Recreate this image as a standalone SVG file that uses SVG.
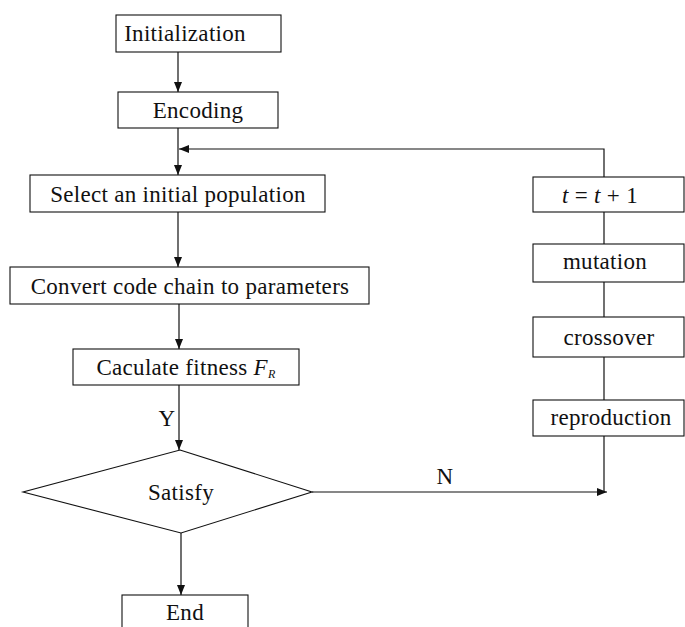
<svg xmlns="http://www.w3.org/2000/svg" width="685" height="627" viewBox="0 0 685 627">
<style>
.box{fill:#fff;stroke:#111;stroke-width:1.1}
.t{font-family:"Liberation Serif","Times New Roman",serif;font-size:23px;letter-spacing:0.3px;fill:#111;text-anchor:middle}
.c{fill:none;stroke:#111;stroke-width:1.2}
</style>
<defs>
<marker id="ah" viewBox="0 0 10 8" refX="10" refY="4" markerWidth="10" markerHeight="8" markerUnits="userSpaceOnUse" orient="auto">
<path d="M0,0 L10,4 L0,8 Z" fill="#111"/>
</marker>
</defs>
<rect width="685" height="627" fill="#fff"/>
<g id="connectors">
<line class="c" x1="178" y1="52" x2="178" y2="92" marker-end="url(#ah)"/>
<line class="c" x1="178" y1="128" x2="178" y2="175" marker-end="url(#ah)"/>
<polyline class="c" points="604,177 604,149 179,149" marker-end="url(#ah)"/>
<line class="c" x1="178" y1="212" x2="178" y2="267" marker-end="url(#ah)"/>
<line class="c" x1="179" y1="304" x2="179" y2="349" marker-end="url(#ah)"/>
<line class="c" x1="179" y1="385" x2="179" y2="450" marker-end="url(#ah)"/>
<line class="c" x1="181" y1="533" x2="181" y2="595" marker-end="url(#ah)"/>
<line class="c" x1="312" y1="492" x2="607" y2="492" marker-end="url(#ah)"/>
<line class="c" x1="604" y1="212" x2="604" y2="244"/>
<line class="c" x1="604" y1="282" x2="604" y2="317"/>
<line class="c" x1="604" y1="357" x2="604" y2="400"/>
<line class="c" x1="604" y1="436" x2="604" y2="492"/>
<text class="t" x="167" y="426">Y</text>
<text class="t" x="445" y="484">N</text>
</g>
<g id="init"><rect class="box" x="116" y="15" width="165" height="37"/><text class="t" x="185" y="41">Initialization</text></g>
<g id="encoding"><rect class="box" x="118" y="92" width="160" height="36"/><text class="t" x="198" y="118">Encoding</text></g>
<g id="select"><rect class="box" x="30" y="175" width="295" height="37"/><text class="t" x="178" y="202">Select an initial population</text></g>
<g id="convert"><rect class="box" x="10" y="267" width="359" height="37"/><text class="t" x="190" y="294">Convert code chain to parameters</text></g>
<g id="calc"><rect class="box" x="73" y="349" width="226" height="36"/><text class="t" x="186" y="375">Caculate fitness <tspan font-style="italic">F</tspan><tspan font-style="italic" font-size="12" dy="3">R</tspan></text></g>
<g id="satisfy"><polygon class="box" points="180,450 312,492 181,533 23,492"/><text class="t" font-family="Liberation Serif, serif" x="181" y="500">Satisfy</text></g>
<g id="end"><rect class="box" x="122" y="595" width="126" height="40"/><text class="t" x="185" y="620">End</text></g>
<g id="tinc"><rect class="box" x="533" y="177" width="151" height="35"/><text class="t" x="600" y="203"><tspan font-style="italic">t</tspan> = <tspan font-style="italic">t</tspan> + 1</text></g>
<g id="mutation"><rect class="box" x="533" y="244" width="151" height="38"/><text class="t" x="605" y="269">mutation</text></g>
<g id="crossover"><rect class="box" x="533" y="317" width="151" height="40"/><text class="t" x="609" y="345">crossover</text></g>
<g id="reproduction"><rect class="box" x="533" y="400" width="151" height="36"/><text class="t" x="611" y="425">reproduction</text></g>
</svg>
